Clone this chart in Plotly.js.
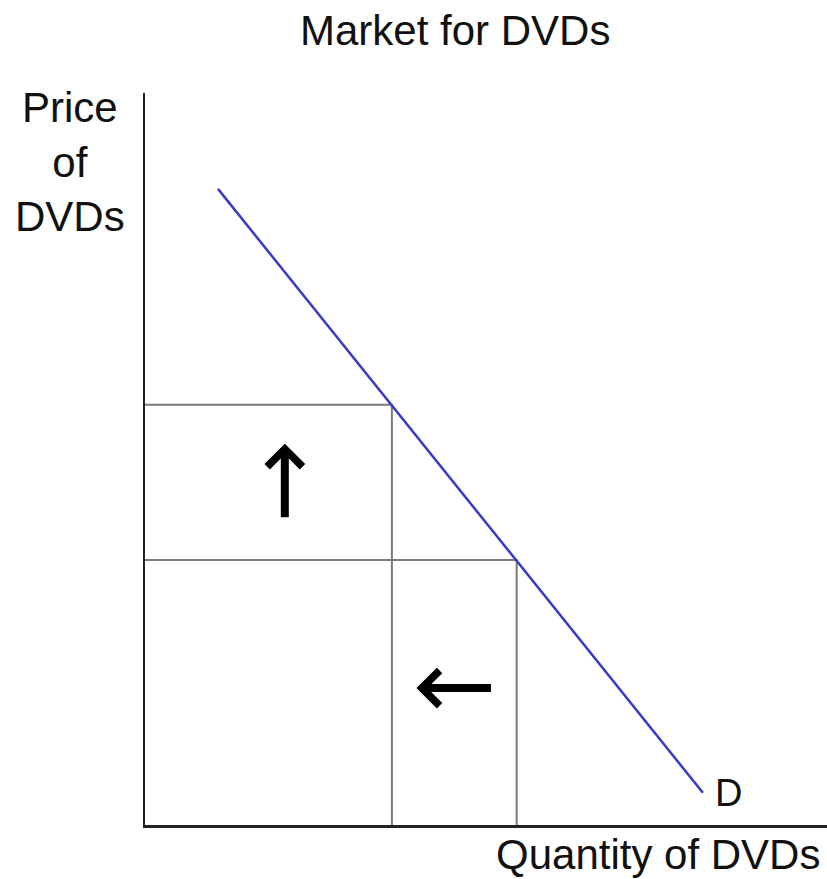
<!DOCTYPE html>
<html>
<head>
<meta charset="utf-8">
<script src="https://cdn.plot.ly/plotly-3.0.1.min.js"></script>
<style>
  html, body { margin: 0; padding: 0; background: #fff; }
  #chart { width: 827px; height: 879px; }
</style>
</head>
<body>
<div id="chart"></div>
<script>
// Demand curve for DVDs (quantity, price), in arbitrary units
var demandQ = [1.07, 8.18];
var demandP = [8.69, 0.44];

// Two points on the demand curve: higher price / lower quantity, lower price / higher quantity
var priceLevels = [5.74, 3.62];
var quantityLevels = [3.62, 5.45];

var chartTitle = 'Market for DVDs';
var xTitle = 'Quantity of DVDs';
var yTitle = 'Price<br>of<br>DVDs';
var curveLabel = 'D';

var FONT = '"Liberation Sans", Arial, sans-serif';

var traces = [];

// Guide lines from each axis to the point on the demand curve
for (var i = 0; i < priceLevels.length; i++) {
  traces.push({
    type: 'scatter', mode: 'lines',
    x: [0, quantityLevels[i], quantityLevels[i]],
    y: [priceLevels[i], priceLevels[i], 0],
    line: { color: '#7a7a7a', width: 2 },
    hoverinfo: 'skip', showlegend: false
  });
}

// Demand curve
traces.push({
  type: 'scatter', mode: 'lines',
  x: demandQ, y: demandP,
  line: { color: '#3a3ac4', width: 2.5 },
  hoverinfo: 'skip', showlegend: false
});

var layout = {
  width: 827, height: 879,
  margin: { l: 145, r: 0, t: 93, b: 54 },
  paper_bgcolor: '#ffffff',
  plot_bgcolor: '#ffffff',
  showlegend: false,
  xaxis: {
    range: [0, 10], showgrid: false, zeroline: false,
    showticklabels: false, ticks: '',
    showline: true, linecolor: '#222222', linewidth: 2.5
  },
  yaxis: {
    range: [0, 10], showgrid: false, zeroline: false,
    showticklabels: false, ticks: '',
    showline: true, linecolor: '#222222', linewidth: 2.5
  },
  annotations: [
    { text: chartTitle, xref: 'paper', yref: 'paper', x: 0.4545, y: 1.085,
      xanchor: 'center', yanchor: 'middle', showarrow: false,
      font: { family: FONT, size: 42, color: '#111111' } },
    { text: yTitle, xref: 'paper', yref: 'paper', x: -0.11, y: 0.906,
      xanchor: 'center', yanchor: 'middle', align: 'center', showarrow: false,
      font: { family: FONT, size: 42, color: '#111111' } },
    { text: xTitle, xref: 'paper', yref: 'paper', x: 0.752, y: -0.04,
      xanchor: 'center', yanchor: 'middle', showarrow: false,
      font: { family: FONT, size: 42, color: '#111111' } },
    { text: curveLabel, xref: 'x', yref: 'y',
      x: demandQ[demandQ.length - 1], y: demandP[demandP.length - 1],
      xanchor: 'left', yanchor: 'middle', xshift: 10, showarrow: false,
      font: { family: FONT, size: 38, color: '#111111' } },
    // price rises
    { text: '', xref: 'x', yref: 'y', x: 2.05, y: 5.21,
      ax: 0, ay: 75, showarrow: true, arrowhead: 4, arrowsize: 0.85,
      arrowwidth: 8, arrowcolor: '#000000' },
    // quantity demanded falls
    { text: '', xref: 'x', yref: 'y', x: 3.98, y: 1.87,
      ax: 76, ay: 0, showarrow: true, arrowhead: 4, arrowsize: 0.85,
      arrowwidth: 8, arrowcolor: '#000000' }
  ]
};

Plotly.newPlot('chart', traces, layout, { displayModeBar: false, staticPlot: true });
</script>
</body>
</html>
